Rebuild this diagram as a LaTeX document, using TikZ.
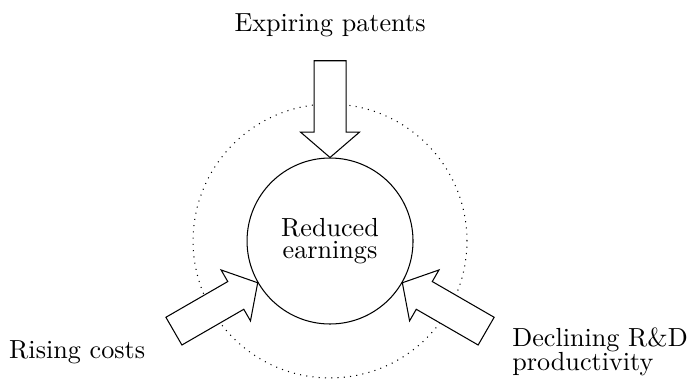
\documentclass[tikz,border=0pt]{standalone}
\begin{document}
\begin{tikzpicture}[blockarrow/.style={draw, fill=white}]
  \useasboundingbox (-4.434,-1.841) rectangle (4.863,3.238);
  \draw [dotted] (0,0) circle (1.84);
  \node [draw, circle, minimum size=2.23cm, align=center] (earn) at (0,0) {Reduced\\[-3.5pt]earnings};
  \foreach \a in {90,210,330}
    \draw [blockarrow, shift={(earn.\a)}, rotate=\a] (0,0) -- (0.34,0.395) -- (0.34,0.215) -- (1.30,0.215) -- (1.30,-0.215) -- (0.34,-0.215) -- (0.34,-0.395) -- cycle;
  \node [anchor=base] (patents) at (0,2.813) {Expiring patents};
  \node [anchor=base west] (costs) at (-4.434,-1.577) {Rising costs};
  \node [anchor=west, align=left] (rnd) at (2.325,-1.487) {Declining R\&D\\[-3pt]productivity};
\end{tikzpicture}
\end{document}
